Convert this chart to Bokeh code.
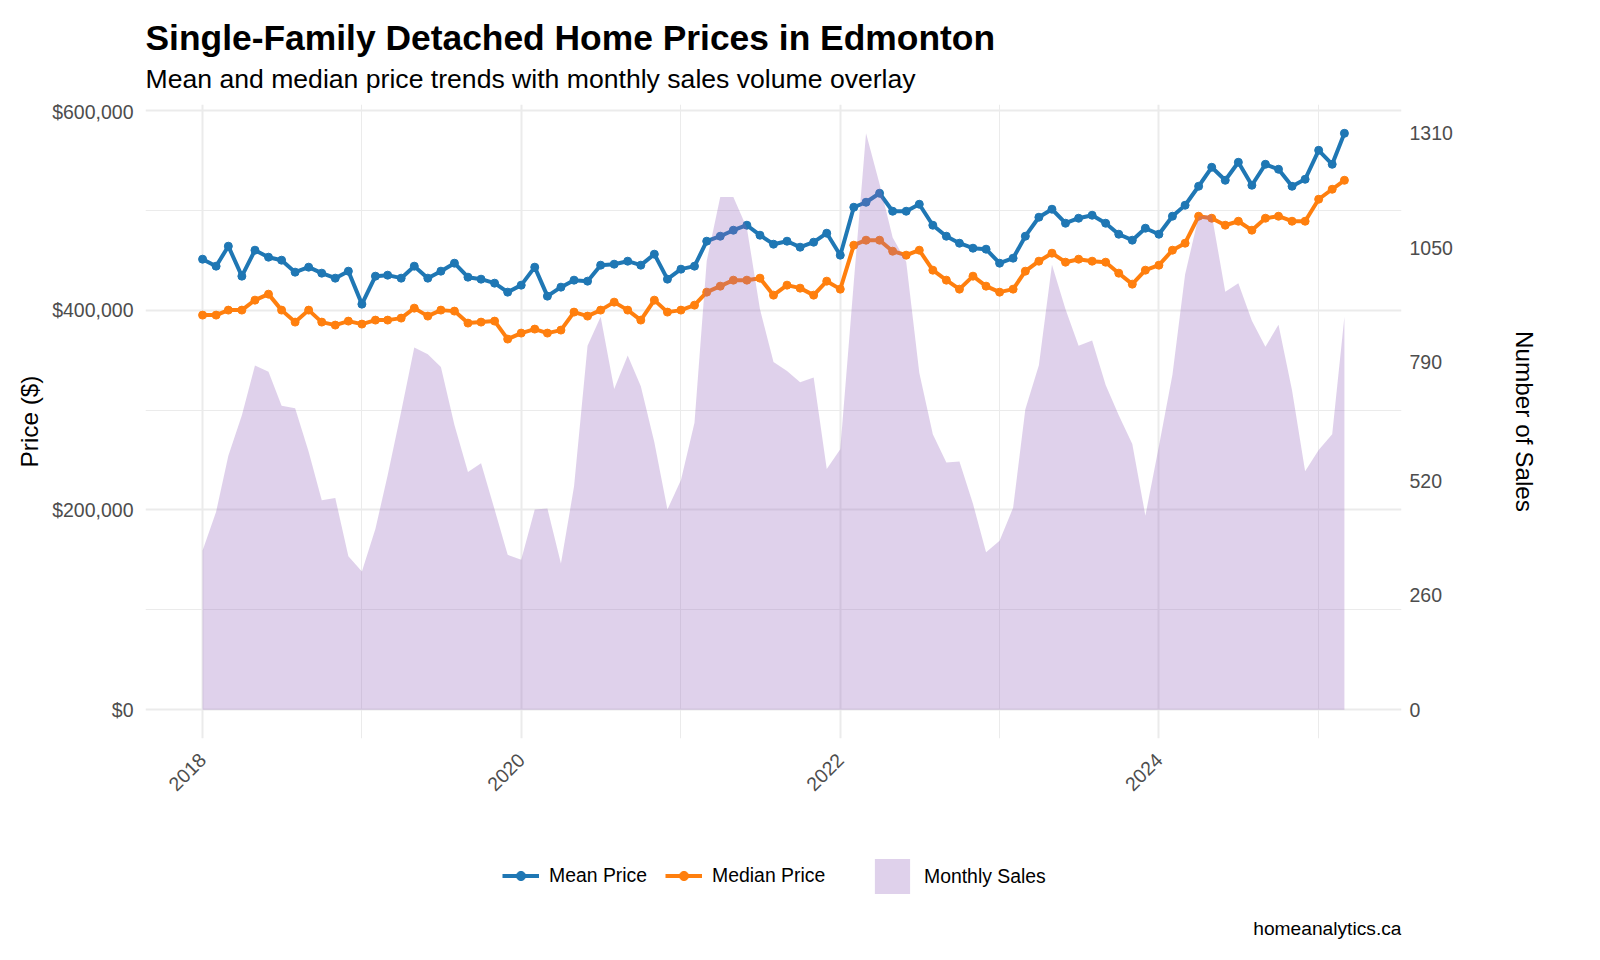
import math
import pandas as pd
from bokeh.plotting import figure
from bokeh.layouts import column
from bokeh.models import Range1d, LinearAxis, FixedTicker, Legend, LegendItem, Label, ColumnDataSource
from bokeh.embed import file_html
from bokeh.resources import INLINE

# ---------------- data (monthly, Jan 2018 - Mar 2025) ----------------
start_month = "2018-01-01"
n_months = 87

mean_price = [
    451000, 444000, 464000, 434000, 460000, 453000, 450000, 438000, 443000, 437000, 432000, 439000,
    406000, 434000, 435000, 432000, 444000, 432000, 439000, 447000, 433000, 431000, 427000, 418000,
    425000, 443000, 414000, 423000, 430000, 429000, 445000, 446000, 449000, 445000, 456000, 431000,
    441000, 444000, 469000, 474000, 480000, 485000, 475000, 466000, 469000, 463000, 468000, 477000,
    455000, 503000, 508000, 517000, 499000, 499000, 506000, 485000, 474000, 467000, 462000, 461000,
    447000, 452000, 474000, 493000, 501000, 487000, 492000, 495000, 487000, 476000, 470000, 482000,
    476000, 494000, 505000, 524000, 543000, 530000, 548000, 525000, 546000, 541000, 524000, 531000,
    560000, 546000, 577000,
]

median_price = [
    395000, 395000, 400000, 400000, 410000, 416000, 400000, 388000, 400000, 388000, 385000, 389000,
    386000, 390000, 390000, 392000, 402000, 394000, 400000, 399000, 387000, 388000, 389000, 371000,
    377000, 381000, 377000, 380000, 398000, 394000, 400000, 408000, 400000, 390000, 410000, 398000,
    400000, 405000, 418000, 424000, 430000, 430000, 432000, 415000, 425000, 422000, 415000, 429000,
    421000, 465000, 470000, 470000, 459000, 455000, 460000, 440000, 430000, 421000, 434000, 424000,
    418000, 421000, 439000, 449000, 457000, 448000, 451000, 449000, 448000, 437000, 426000, 440000,
    445000, 460000, 467000, 494000, 492000, 485000, 489000, 480000, 492000, 494000, 489000, 489000,
    511000, 521000, 530000,
]

monthly_sales = [
    362, 450, 577, 669, 782, 768, 691, 685, 586, 476, 481, 349,
    314, 411, 533, 678, 823, 808, 779, 647, 540, 560, 455, 352,
    341, 455, 457, 332, 507, 827, 893, 729, 805, 735, 608, 455,
    522, 652, 1020, 1165, 1165, 1095, 910, 790, 770, 744, 755, 547,
    592, 972, 1310, 1195, 1073, 1018, 766, 626, 562, 564, 468, 358,
    384, 459, 683, 783, 1011, 910, 827, 839, 738, 669, 604, 441,
    599, 761, 989, 1121, 1125, 950, 969, 884, 825, 875, 726, 542,
    590, 626, 893,
]

price_ticks = [0, 200000, 400000, 600000]
price_labels = ["$0", "$200,000", "$400,000", "$600,000"]
price_minor = [100000, 300000, 500000]

sales_ticks = [0, 260, 520, 790, 1050, 1310]
sales_labels = ["0", "260", "520", "790", "1050", "1310"]

year_ticks = [2018, 2020, 2022, 2024]
year_labels = ["2018", "2020", "2022", "2024"]
year_minor = [2019, 2021, 2023, 2025]

series_names = ["Mean Price", "Median Price", "Monthly Sales"]
title_text = "Single-Family Detached Home Prices in Edmonton"
subtitle_text = "Mean and median price trends with monthly sales volume overlay"
caption_text = "homeanalytics.ca"

# ---------------- styling ----------------
FONT = "Liberation Sans"
BLUE = "#1f77b4"
ORANGE = "#ff7f0e"
PURPLE = "#9467bd"
GRID = "#EBEBEB"
TICK_TXT = "#4D4D4D"
LW = 4
PT = 8

W = 1600
TOP_H, MAIN_H, BOT_H = 100, 750, 110
ML, MR, MT, MB = 145, 199, 4, 112
NAN = float("nan")

dates = pd.date_range(start_month, periods=n_months, freq="MS")
src = ColumnDataSource(dict(date=dates, mean=mean_price, median=median_price, sales=monthly_sales))


def ms(ts):
    return pd.Timestamp(ts).value / 1e6


def blank_fig(h):
    # frame is aligned with the main panel's frame by the column layout;
    # x data units equal page pixels, y data units equal pixels from the top
    f = figure(width=W, height=h, x_range=Range1d(ML, W - MR), y_range=Range1d(h, 0),
               x_axis_location=None, y_axis_location=None, min_border=0,
               min_border_left=ML, min_border_right=MR,
               output_backend="svg", toolbar_location=None)
    f.grid.visible = False
    f.outline_line_color = None
    f.background_fill_color = "white"
    f.border_fill_color = "white"
    return f


# ---------------- header: title + subtitle ----------------
top = blank_fig(TOP_H)
top.add_layout(Label(x=ML, y=37, text=title_text, text_font=FONT, text_font_size="35.4px",
                     text_font_style="bold", text_color="black", text_baseline="alphabetic"))
top.add_layout(Label(x=ML, y=78, text=subtitle_text, text_font=FONT, text_font_size="26.6px",
                     text_color="black", text_baseline="alphabetic"))

# ---------------- main panel ----------------
x0, x1 = ms(dates[0]), ms(dates[-1])
xspan = x1 - x0
pmax = max(mean_price)
smax = max(monthly_sales)
factor = pmax / smax
y_lo, y_hi = -0.05 * pmax, 1.05 * pmax

p = figure(
    width=W, height=MAIN_H,
    x_axis_type="datetime",
    x_range=Range1d(x0 - 0.05 * xspan, x1 + 0.05 * xspan),
    y_range=Range1d(y_lo, y_hi),
    output_backend="svg", toolbar_location=None,
    min_border_left=ML, min_border_right=MR, min_border_top=MT, min_border_bottom=MB,
)
p.extra_y_ranges = {"sales": Range1d(y_lo / factor, y_hi / factor)}
p.outline_line_color = None
p.background_fill_color = "white"
p.border_fill_color = "white"

year_ms = [ms(f"{y}-01-01") for y in year_ticks]
year_minor_ms = [ms(f"{y}-01-01") for y in year_minor]
xt = FixedTicker(ticks=year_ms, minor_ticks=year_minor_ms)
yt = FixedTicker(ticks=price_ticks, minor_ticks=price_minor)
p.xaxis.ticker = xt
p.yaxis.ticker = yt
p.xgrid.ticker = xt
p.ygrid.ticker = yt
for g in (p.xgrid, p.ygrid):
    g.grid_line_color = GRID
    g.grid_line_width = 2
    g.minor_grid_line_color = GRID
    g.minor_grid_line_width = 1

p.line("date", "mean", source=src, color=BLUE, line_width=LW, line_join="round")
p.line("date", "median", source=src, color=ORANGE, line_width=LW, line_join="round")
p.scatter("date", "mean", source=src, color=BLUE, size=PT)
p.scatter("date", "median", source=src, color=ORANGE, size=PT)
p.varea(x="date", y1=0, y2="sales", source=src, y_range_name="sales",
        fill_color=PURPLE, fill_alpha=0.3)


def style_axis(ax):
    ax.axis_line_color = None
    ax.major_tick_line_color = None
    ax.minor_tick_line_color = None
    ax.major_tick_out = 0
    ax.major_tick_in = 0
    ax.minor_tick_out = 0
    ax.minor_tick_in = 0
    ax.major_label_text_font = FONT
    ax.major_label_text_font_size = "19.5px"
    ax.major_label_text_color = TICK_TXT
    ax.axis_label_text_font = FONT
    ax.axis_label_text_font_size = "24.3px"
    ax.axis_label_text_font_style = "normal"
    ax.axis_label_text_color = "black"


xa = p.xaxis[0]
style_axis(xa)
xa.major_label_overrides = {m: l for m, l in zip(year_ms, year_labels)}
xa.major_label_orientation = math.pi / 4
xa.major_label_standoff = 18

ya = p.yaxis[0]
style_axis(ya)
ya.major_label_overrides = {t: l for t, l in zip(price_ticks, price_labels)}
ya.axis_label = "Price ($)"
ya.major_label_standoff = 12
ya.axis_label_standoff = 6

ra = LinearAxis(y_range_name="sales", ticker=FixedTicker(ticks=sales_ticks))
style_axis(ra)
ra.major_label_overrides = {t: l for t, l in zip(sales_ticks, sales_labels)}
ra.axis_label = "Number of Sales"
ra.major_label_standoff = 8
ra.axis_label_standoff = 55
p.add_layout(ra, "right")

# ---------------- footer: legends + caption ----------------
bot = blank_fig(BOT_H)
key_src = ColumnDataSource(dict(x=[NAN], y=[NAN], y0=[NAN]))
k_mean_l = bot.line("x", "y", source=key_src, color=BLUE, line_width=LW)
k_mean_p = bot.scatter("x", "y", source=key_src, color=BLUE, size=PT)
k_med_l = bot.line("x", "y", source=key_src, color=ORANGE, line_width=LW)
k_med_p = bot.scatter("x", "y", source=key_src, color=ORANGE, size=PT)
k_area = bot.varea(x="x", y1="y0", y2="y", source=key_src, fill_color=PURPLE, fill_alpha=0.3)

leg1 = Legend(
    items=[LegendItem(label=series_names[0], renderers=[k_mean_l, k_mean_p]),
           LegendItem(label=series_names[1], renderers=[k_med_l, k_med_p])],
    orientation="horizontal", location=(502 - ML, BOT_H - 37), padding=0, margin=0, spacing=18,
    label_standoff=10, glyph_width=37, glyph_height=23,
    border_line_color=None, background_fill_alpha=0,
    label_text_font=FONT, label_text_font_size="19.4px", label_text_color="black",
)
# area keys are drawn with a 10% inset, so the key box is enlarged to give a ~35px swatch
leg2 = Legend(
    items=[LegendItem(label=series_names[2], renderers=[k_area])],
    orientation="horizontal", location=(870 - ML, BOT_H - 48), padding=0, margin=0,
    label_standoff=10, glyph_width=44, glyph_height=44,
    border_line_color=None, background_fill_alpha=0,
    label_text_font=FONT, label_text_font_size="19.4px", label_text_color="black",
)
bot.add_layout(leg1)
bot.add_layout(leg2)
bot.add_layout(Label(x=W - MR, y=78, text=caption_text, text_font=FONT, text_font_size="19.2px",
                     text_color="black", text_align="right", text_baseline="middle"))

layout = column(top, p, bot, spacing=0)
open("out.html", "w").write(file_html(layout, INLINE))
